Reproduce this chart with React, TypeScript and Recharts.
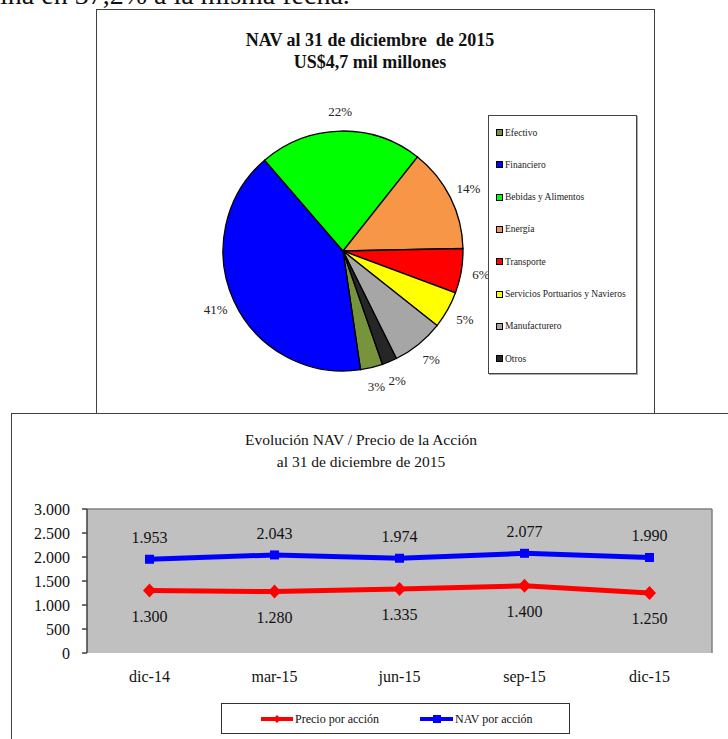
import React from 'react';
import {
  PieChart,
  Pie,
  Cell,
  LineChart,
  Line,
  XAxis,
  YAxis,
  CartesianGrid,
  LabelList,
  ReferenceLine,
} from 'recharts';

// Composición del NAV por sector (%)
const sectorNames = [
  'Efectivo',
  'Financiero',
  'Bebidas y Alimentos',
  'Energía',
  'Transporte',
  'Servicios Portuarios y Navieros',
  'Manufacturero',
  'Otros',
];
const sectorShares = [3, 41, 22, 14, 6, 5, 7, 2];
const sectorColors = ['#77933C', '#0000FF', '#00FF00', '#F79646', '#FF0000', '#FFFF00', '#A6A6A6', '#262626'];

// Evolución NAV / precio por acción
const periods = ['dic-14', 'mar-15', 'jun-15', 'sep-15', 'dic-15'];
const pricePerShare = [1300, 1280, 1335, 1400, 1250];
const navPerShare = [1953, 2043, 1974, 2077, 1990];
const yTicks = [0, 500, 1000, 1500, 2000, 2500, 3000];
const periodEdges = [-0.5, 0.5, 1.5, 2.5, 3.5, 4.5];

const serif = '"Liberation Serif", "Times New Roman", serif';

const pieData = sectorNames.map((name, i) => ({ name, value: sectorShares[i] }));
const lineData = periods.map((period, i) => ({
  period,
  idx: i,
  precio: pricePerShare[i],
  nav: navPerShare[i],
}));

// 1953 -> "1.953"
const fmtMiles = (v: any) => String(v).replace(/\B(?=(\d{3})+(?!\d))/g, '.');

const RAD = Math.PI / 180;
const renderPct = (p: any) => {
  const r = p.outerRadius + 20;
  const x = p.cx + r * Math.cos(-p.midAngle * RAD);
  const y = p.cy + r * Math.sin(-p.midAngle * RAD);
  return (
    <text
      key={`pct-${p.index}`}
      x={x}
      y={y}
      textAnchor="middle"
      dominantBaseline="central"
      fontSize={13}
      fontFamily={serif}
      fill="#222"
    >
      {`${sectorShares[p.index]}%`}
    </text>
  );
};

const Diamond = (p: any) => {
  if (p.cx == null || p.cy == null) return <g key={p.index} />;
  return (
    <polygon
      key={`d-${p.index}`}
      points={`${p.cx},${p.cy - 7} ${p.cx + 6.5},${p.cy} ${p.cx},${p.cy + 7} ${p.cx - 6.5},${p.cy}`}
      fill="#FF0000"
    />
  );
};

const Square = (p: any) => {
  if (p.cx == null || p.cy == null) return <g key={p.index} />;
  return <rect key={`s-${p.index}`} x={p.cx - 4.5} y={p.cy - 4.5} width={9} height={9} fill="#0000FF" />;
};

export default function App() {
  return (
    <div
      style={{
        position: 'absolute',
        left: 0,
        top: 0,
        width: 728,
        height: 739,
        overflow: 'hidden',
        background: '#fff',
        fontFamily: serif,
      }}
    >
      {/* resto del párrafo, cortado arriba */}
      <div
        style={{
          position: 'absolute',
          left: 0,
          top: -19,
          fontSize: 28,
          lineHeight: '27px',
          whiteSpace: 'nowrap',
          color: '#111',
        }}
      >
        ina en 37,2% a la misma fecha.
      </div>

      {/* ---- gráfico de torta ---- */}
      <div
        style={{
          position: 'absolute',
          left: 96,
          top: 9,
          width: 559,
          height: 405,
          border: '1.5px solid #404040',
          boxSizing: 'border-box',
        }}
      />
      <div
        style={{
          position: 'absolute',
          left: 170,
          top: 29,
          width: 400,
          textAlign: 'center',
          fontSize: 18,
          fontWeight: 'bold',
          lineHeight: '22px',
          color: '#111',
        }}
      >
        NAV al 31 de diciembre&nbsp; de 2015
        <br />
        US$4,7 mil millones
      </div>
      <div style={{ position: 'absolute', left: 96, top: 9 }}>
        <PieChart width={558} height={404}>
          <Pie
            data={pieData}
            dataKey="value"
            nameKey="name"
            cx={242}
            cy={237}
            outerRadius={120}
            startAngle={-70.8}
            endAngle={-430.8}
            stroke="#000"
            strokeWidth={1.3}
            label={renderPct}
            labelLine={false}
            isAnimationActive={false}
          >
            {pieData.map((d, i) => (
              <Cell key={d.name} fill={sectorColors[i]} />
            ))}
          </Pie>
        </PieChart>
      </div>
      <div
        style={{
          position: 'absolute',
          left: 488,
          top: 115,
          width: 149,
          height: 259,
          border: '1px solid #444',
          boxSizing: 'border-box',
          boxShadow: '1px 1px 0 #aaa',
          background: '#fff',
        }}
      >
        {sectorNames.map((name, i) => (
          <div
            key={name}
            style={{
              position: 'absolute',
              left: 7,
              top: 10 + i * 32.3,
              height: 13,
              display: 'flex',
              alignItems: 'center',
              fontSize: 9.5,
              color: '#222',
              whiteSpace: 'nowrap',
            }}
          >
            <span
              style={{
                display: 'inline-block',
                width: 5,
                height: 5,
                border: '1px solid #000',
                background: sectorColors[i],
                marginRight: 2,
              }}
            />
            {name}
          </div>
        ))}
      </div>

      {/* ---- gráfico de líneas ---- */}
      <div
        style={{
          position: 'absolute',
          left: 11,
          top: 413,
          width: 800,
          height: 400,
          border: '1.5px solid #404040',
          boxSizing: 'border-box',
        }}
      />
      <div
        style={{
          position: 'absolute',
          left: 161,
          top: 429,
          width: 400,
          textAlign: 'center',
          fontSize: 15.5,
          lineHeight: '22px',
          color: '#111',
        }}
      >
        Evolución NAV / Precio de la Acción
        <br />
        al 31 de diciembre de 2015
      </div>
      <div style={{ position: 'absolute', left: 0, top: 414 }}>
        <LineChart width={728} height={325} data={lineData} margin={{ top: 95, right: 16, bottom: 56, left: 0 }}>
          <CartesianGrid fill="#C0C0C0" horizontal={false} vertical={false} />
          <XAxis
            xAxisId="edges"
            type="number"
            dataKey="idx"
            domain={[-0.5, 4.5]}
            ticks={periodEdges}
            tick={false}
            height={0}
            tickSize={5}
            axisLine={{ stroke: '#404040', strokeWidth: 1.5 }}
            tickLine={{ stroke: '#404040', strokeWidth: 1.5 }}
          />
          <XAxis
            dataKey="period"
            scale="band"
            height={30}
            axisLine={false}
            tickLine={false}
            tickSize={5}
            tickMargin={13}
            tick={{ fill: '#111', fontSize: 16, fontFamily: serif }}
          />
          <YAxis
            width={87}
            domain={[0, 3000]}
            ticks={yTicks}
            tickFormatter={fmtMiles}
            tickSize={5}
            tickMargin={12}
            axisLine={{ stroke: '#404040', strokeWidth: 1.5 }}
            tickLine={{ stroke: '#404040', strokeWidth: 1.5 }}
            tick={{ fill: '#111', fontSize: 16, fontFamily: serif }}
          />
          <ReferenceLine y={3000} stroke="#808080" strokeWidth={1.5} />
          <ReferenceLine xAxisId="edges" x={4.5} stroke="#808080" strokeWidth={1.5} />
          <Line
            type="linear"
            dataKey="precio"
            stroke="#FF0000"
            strokeWidth={5}
            dot={Diamond}
            activeDot={false}
            isAnimationActive={false}
          >
            <LabelList
              dataKey="precio"
              position="bottom"
              offset={20}
              formatter={fmtMiles}
              fontSize={16}
              fontFamily={serif}
              fill="#111"
            />
          </Line>
          <Line
            type="linear"
            dataKey="nav"
            stroke="#0000FF"
            strokeWidth={5}
            dot={Square}
            activeDot={false}
            isAnimationActive={false}
          >
            <LabelList
              dataKey="nav"
              position="top"
              offset={16}
              formatter={fmtMiles}
              fontSize={16}
              fontFamily={serif}
              fill="#111"
            />
          </Line>
        </LineChart>
      </div>
      <div
        style={{
          position: 'absolute',
          left: 221,
          top: 703,
          width: 349,
          height: 31,
          border: '1px solid #333',
          boxSizing: 'border-box',
          background: '#fff',
        }}
      >
        <svg width={347} height={29} style={{ display: 'block' }}>
          <line x1={39} y1={15} x2={71} y2={15} stroke="#FF0000" strokeWidth={4} />
          <polygon points="55,11 59,15 55,19 51,15" fill="#FF0000" />
          <text x={73} y={19} fontSize={12} fontFamily={serif} fill="#111">
            Precio por acción
          </text>
          <line x1={198} y1={15} x2={231} y2={15} stroke="#0000FF" strokeWidth={4} />
          <rect x={211} y={11} width={8} height={8} fill="#0000FF" />
          <text x={233} y={19} fontSize={12} fontFamily={serif} fill="#111">
            NAV por acción
          </text>
        </svg>
      </div>
    </div>
  );
}
